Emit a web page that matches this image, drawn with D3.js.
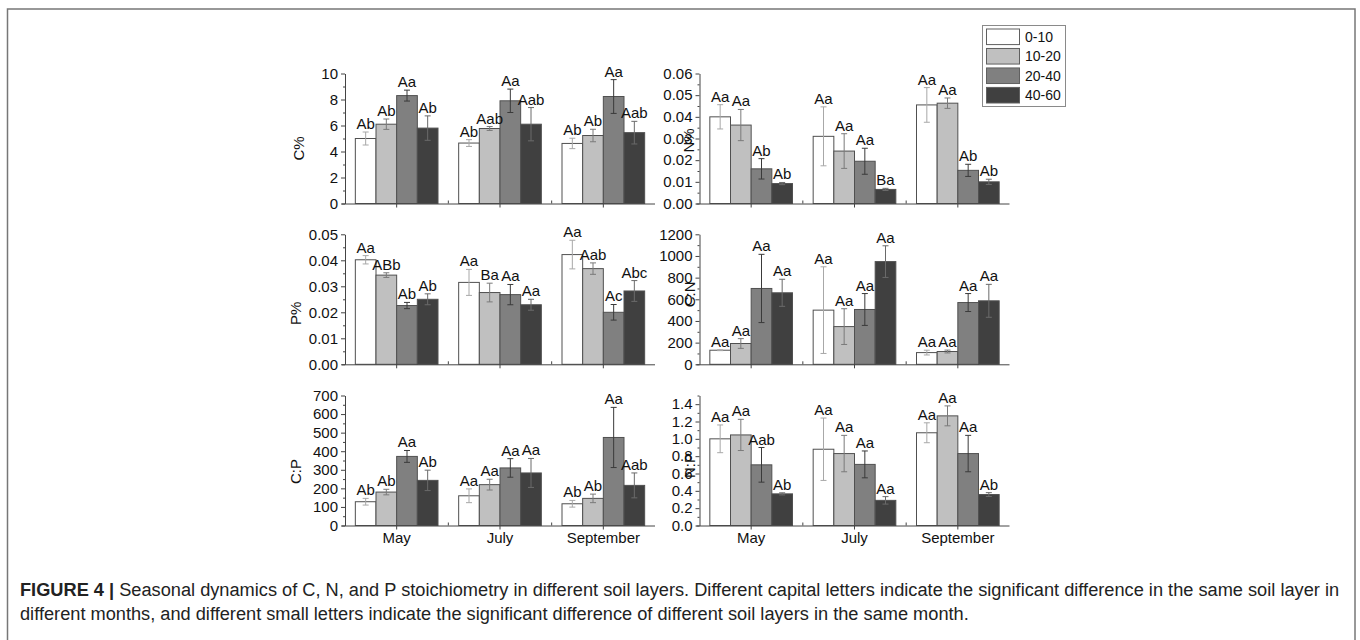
<!DOCTYPE html>
<html>
<head>
<meta charset="utf-8">
<script src="https://cdn.jsdelivr.net/npm/d3@7"></script>
<style>
  html, body { margin: 0; padding: 0; background: #fff; }
  svg { display: block; font-family: "Liberation Sans", Arial, sans-serif; }
</style>
</head>
<body>
<svg id="chart" width="1360" height="640"></svg>
<script>
// Sampling months and soil layers (cm)
const months = ["May", "July", "September"];
const layers = ["0-10", "10-20", "20-40", "40-60"];

// Means, standard errors and significance letters; rows = soil layer, cols = month
const cMean = [[5.0, 4.65, 4.62], [6.1, 5.77, 5.23], [8.3, 7.9, 8.23], [5.8, 6.1, 5.45]];
const cErr  = [[0.5, 0.26, 0.4], [0.4, 0.15, 0.48], [0.42, 0.9, 1.3], [0.94, 1.28, 0.87]];
const cLab  = [["Ab", "Ab", "Ab"], ["Ab", "Aab", "Ab"], ["Aa", "Aa", "Aa"], ["Ab", "Aab", "Aab"]];

const nMean = [[0.040, 0.031, 0.0455], [0.0362, 0.0242, 0.0463], [0.016, 0.0195, 0.0153], [0.0092, 0.0065, 0.0100]];
const nErr  = [[0.0056, 0.0136, 0.008], [0.0072, 0.008, 0.0024], [0.0047, 0.006, 0.0028], [0.0005, 0.0005, 0.0012]];
const nLab  = [["Aa", "Aa", "Aa"], ["Aa", "Aa", "Aa"], ["Ab", "Aa", "Ab"], ["Ab", "Ba", "Ab"]];

const pMean = [[0.0402, 0.0315, 0.0422], [0.0343, 0.0276, 0.0368], [0.0226, 0.0268, 0.0200], [0.0250, 0.0229, 0.0282]];
const pErr  = [[0.0016, 0.005, 0.0055], [0.0009, 0.0036, 0.0022], [0.0012, 0.0039, 0.003], [0.0021, 0.0021, 0.004]];
const pLab  = [["Aa", "Aa", "Aa"], ["ABb", "Ba", "Aab"], ["Ab", "Aa", "Ac"], ["Ab", "Aa", "Abc"]];

const cnMean = [[130, 500, 108], [192, 348, 118], [700, 506, 570], [660, 948, 586]];
const cnErr  = [[4, 400, 22], [45, 165, 13], [315, 147, 83], [125, 146, 152]];
const cnLab  = [["Aa", "Aa", "Aa"], ["Aa", "Aa", "Aa"], ["Aa", "Aa", "Aa"], ["Aa", "Aa", "Aa"]];

const cpMean = [[128, 160, 117], [180, 220, 146], [372, 310, 474], [243, 283, 216]];
const cpErr  = [[18, 37, 18], [15, 29, 23], [32, 50, 162], [55, 78, 67]];
const cpLab  = [["Ab", "Aa", "Ab"], ["Ab", "Aa", "Ab"], ["Aa", "Aa", "Aa"], ["Ab", "Aa", "Aab"]];

const npMean = [[1.00, 0.88, 1.07], [1.045, 0.83, 1.265], [0.70, 0.705, 0.83], [0.365, 0.29, 0.357]];
const npErr  = [[0.16, 0.36, 0.115], [0.18, 0.21, 0.115], [0.2, 0.155, 0.21], [0.012, 0.043, 0.022]];
const npLab  = [["Aa", "Aa", "Aa"], ["Aa", "Aa", "Aa"], ["Aab", "Aa", "Aa"], ["Ab", "Aa", "Ab"]];

// Axis tick values
const cTicks  = [0, 2, 4, 6, 8, 10];
const nTicks  = [0, 0.01, 0.02, 0.03, 0.04, 0.05, 0.06];
const pTicks  = [0, 0.01, 0.02, 0.03, 0.04, 0.05];
const cnTicks = [0, 200, 400, 600, 800, 1000, 1200];
const cpTicks = [0, 100, 200, 300, 400, 500, 600, 700];
const npTicks = [0, 0.2, 0.4, 0.6, 0.8, 1.0, 1.2, 1.4];

const fills = ["#ffffff", "#c0c0c0", "#808080", "#404040"];
const errColors = ["#a8a8a8", "#7a7a7a", "#3a3a3a", "#6a6a6a"];

const svg = d3.select("#chart");

// Figure frame
svg.append("rect")
  .attr("x", 7.5).attr("y", 9).attr("width", 1347.5).attr("height", 660)
  .attr("fill", "none").attr("stroke", "#777").attr("stroke-width", 1.5);

const panelW = 310, panelH = 130;
const colX = [345, 699.5];
const rowY = [73.5, 234.3, 395.5];

const panels = [
  { mean: cMean,  err: cErr,  lab: cLab,  ticks: cTicks,  max: 10,   fmt: d3.format("d"),   title: "C%",  col: 0, row: 0, tdx: -46, tdy: 10 },
  { mean: nMean,  err: nErr,  lab: nLab,  ticks: nTicks,  max: 0.06, fmt: d3.format(".2f"), title: "N%",  col: 1, row: 0, tdx: -11, tdy: 2 },
  { mean: pMean,  err: pErr,  lab: pLab,  ticks: pTicks,  max: 0.05, fmt: d3.format(".2f"), title: "P%",  col: 0, row: 1, tdx: -49, tdy: 14 },
  { mean: cnMean, err: cnErr, lab: cnLab, ticks: cnTicks, max: 1200, fmt: d3.format("d"),   title: "C:N", col: 1, row: 1, tdx: -10, tdy: -5 },
  { mean: cpMean, err: cpErr, lab: cpLab, ticks: cpTicks, max: 700,  fmt: d3.format("d"),   title: "C:P", col: 0, row: 2, tdx: -49, tdy: 11 },
  { mean: npMean, err: npErr, lab: npLab, ticks: npTicks, max: 1.5,  fmt: d3.format(".1f"), title: "N:P", col: 1, row: 2, tdx: -10, tdy: 5 }
];

panels.forEach(p => {
  const x0 = colX[p.col], y0 = rowY[p.row];
  const g = svg.append("g").attr("transform", `translate(${x0},${y0})`);

  const x = d3.scaleBand().domain(months).range([0, panelW]).padding(0);
  const xi = d3.scaleBand().domain(layers).range([0, x.bandwidth()]).paddingInner(0).paddingOuter(0.5);
  const y = d3.scaleLinear().domain([0, p.max]).range([panelH, 0]);

  // Bars, error bars, letters
  const cells = [];
  layers.forEach((l, li) => months.forEach((m, mi) => {
    cells.push({ l, li, m, v: p.mean[li][mi], e: p.err[li][mi], t: p.lab[li][mi] });
  }));

  g.selectAll("rect.bar").data(cells).join("rect")
    .attr("class", "bar")
    .attr("x", d => x(d.m) + xi(d.l))
    .attr("y", d => y(d.v))
    .attr("width", xi.bandwidth())
    .attr("height", d => panelH - y(d.v))
    .attr("fill", d => fills[d.li])
    .attr("stroke", "#505050").attr("stroke-width", 1);

  const eb = g.selectAll("g.err").data(cells).join("g").attr("class", "err")
    .attr("stroke", d => errColors[d.li]).attr("stroke-width", 1);
  const cx = d => x(d.m) + xi(d.l) + xi.bandwidth() / 2;
  eb.append("line").attr("x1", cx).attr("x2", cx)
    .attr("y1", d => y(d.v + d.e)).attr("y2", d => y(Math.max(0, d.v - d.e)));
  eb.append("line").attr("x1", d => cx(d) - 3).attr("x2", d => cx(d) + 3)
    .attr("y1", d => y(d.v + d.e)).attr("y2", d => y(d.v + d.e));
  eb.append("line").attr("x1", d => cx(d) - 3).attr("x2", d => cx(d) + 3)
    .attr("y1", d => y(Math.max(0, d.v - d.e))).attr("y2", d => y(Math.max(0, d.v - d.e)));

  g.selectAll("text.sig").data(cells).join("text")
    .attr("class", "sig")
    .attr("x", cx)
    .attr("y", d => y(d.v + d.e) - 3)
    .attr("text-anchor", "middle")
    .attr("font-size", 15).attr("fill", "#111")
    .text(d => d.t);

  // Y axis: labelled major ticks and short minor ticks
  const step = p.ticks[1] - p.ticks[0];
  const minor = d3.range(0, p.max + 1e-9, step / 2).filter(v => !p.ticks.some(t => Math.abs(t - v) < 1e-9));
  const yAx = g.append("g").call(d3.axisLeft(y).tickValues(p.ticks).tickFormat(p.fmt).tickSize(4).tickSizeOuter(0).tickPadding(3));
  yAx.selectAll("text").attr("font-size", 15).attr("fill", "#111").attr("font-family", "Liberation Sans, Arial, sans-serif");
  yAx.selectAll("line, path").attr("stroke", "#444");
  const yMin = g.append("g").call(d3.axisLeft(y).tickValues(minor).tickFormat("").tickSize(2).tickSizeOuter(0));
  yMin.select("path").remove();
  yMin.selectAll("line").attr("stroke", "#444");

  // X axis: ticks at month centres, inward ticks between months
  const xAx = g.append("g").attr("transform", `translate(0,${panelH})`)
    .call(d3.axisBottom(x).tickSize(4).tickSizeOuter(0).tickPadding(3));
  xAx.select("path").attr("d", `M-3,0.5H${panelW}`).attr("stroke", "#444");
  xAx.selectAll("line").attr("stroke", "#444");
  if (p.row === 2) {
    xAx.selectAll("text").attr("font-size", 15).attr("fill", "#111")
      .attr("font-family", "Liberation Sans, Arial, sans-serif").attr("dy", "0.71em");
  } else {
    xAx.selectAll("text").remove();
  }
  g.selectAll("line.xminor").data(months.slice(1)).join("line")
    .attr("class", "xminor")
    .attr("x1", d => x(d)).attr("x2", d => x(d))
    .attr("y1", panelH).attr("y2", panelH - 3)
    .attr("stroke", "#444");

  // Axis title
  g.append("text")
    .attr("transform", `translate(${p.tdx},${panelH / 2 + p.tdy}) rotate(-90)`)
    .attr("text-anchor", "middle").attr("dy", "0.35em")
    .attr("font-size", 15).attr("fill", "#111")
    .text(p.title);
});

// Legend
const lg = svg.append("g");
lg.append("rect").attr("x", 982.5).attr("y", 25.5).attr("width", 83).attr("height", 81)
  .attr("fill", "#fff").attr("stroke", "#8a8a8a").attr("stroke-width", 1);
const ly = d3.scaleBand().domain(layers).range([29, 103]).paddingInner(0.2);
lg.selectAll("rect.sw").data(layers).join("rect")
  .attr("class", "sw")
  .attr("x", 986.5).attr("y", d => ly(d))
  .attr("width", 33).attr("height", ly.bandwidth())
  .attr("fill", (d, i) => fills[i]).attr("stroke", "#606060");
lg.selectAll("text").data(layers).join("text")
  .attr("x", 1025).attr("y", d => ly(d) + ly.bandwidth() / 2)
  .attr("dy", "0.35em").attr("font-size", 14).attr("fill", "#111")
  .text(d => d);

// Caption: first line fills the width between the frame margins
const cap = svg.append("g").attr("font-size", 18).attr("fill", "#222");
const l1 = cap.append("text").attr("x", 20).attr("y", 596);
l1.append("tspan").attr("font-weight", "bold").text("FIGURE 4 | ");
l1.append("tspan").text("Seasonal dynamics of C, N, and P stoichiometry in different soil layers. Different capital letters indicate the significant difference in the same soil layer in");
const l2 = cap.append("text").attr("x", 20).attr("y", 620)
  .text("different months, and different small letters indicate the significant difference of different soil layers in the same month.");
const len1 = l1.node().getComputedTextLength();
cap.attr("font-size", 18 * 1320 / len1);
</script>
</body>
</html>
